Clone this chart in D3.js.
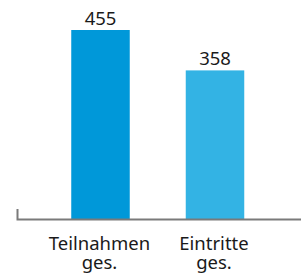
<!DOCTYPE html>
<html><head><meta charset="utf-8">
<script src="https://cdn.jsdelivr.net/npm/d3@7"></script>
<style>html,body{margin:0;padding:0;background:#fff;}svg{display:block;}</style>
</head><body>
<svg id="chart" width="305" height="273"></svg>
<script>
const categories = [["Teilnahmen", "ges."], ["Eintritte", "ges."]];
const values = [455, 358];
const colors = ["#0098d9", "#33b3e4"];

const svg = d3.select("#chart");
const font = "'Noto Sans', 'Open Sans', sans-serif";
const baseY = 219.5;

const xc = d3.scalePoint().domain(d3.range(values.length)).range([100.5, 215]);
const barW = 58.5;
const y = d3.scaleLinear().domain([0, 455]).range([baseY, 30]);

svg.selectAll("rect.bar").data(values).enter().append("rect")
  .attr("class", "bar")
  .attr("x", (d, i) => xc(i) - barW / 2)
  .attr("width", barW)
  .attr("y", d => y(d))
  .attr("height", d => baseY - y(d))
  .attr("fill", (d, i) => colors[i]);

svg.selectAll("text.val").data(values).enter().append("text")
  .attr("class", "val")
  .attr("x", (d, i) => xc(i))
  .attr("y", d => y(d) - 5)
  .attr("text-anchor", "middle")
  .attr("font-family", font)
  .attr("font-size", 18.5)
  .attr("fill", "#1a1a1a")
  .text(d => d);

// axis
svg.append("path")
  .attr("d", `M17.5,209V${baseY}H301`)
  .attr("fill", "none")
  .attr("stroke", "#7a7a7a")
  .attr("stroke-width", 2);

const lab = svg.selectAll("text.cat").data(categories).enter().append("text")
  .attr("class", "cat")
  .attr("text-anchor", "middle")
  .attr("font-family", font)
  .attr("font-size", 18.5)
  .attr("fill", "#1a1a1a");
lab.each(function(d, i) {
  d3.select(this).selectAll("tspan").data(d).enter().append("tspan")
    .attr("x", xc(i) - 1)
    .attr("y", (t, j) => 250 + j * 19)
    .text(t => t);
});
</script>
</body></html>
